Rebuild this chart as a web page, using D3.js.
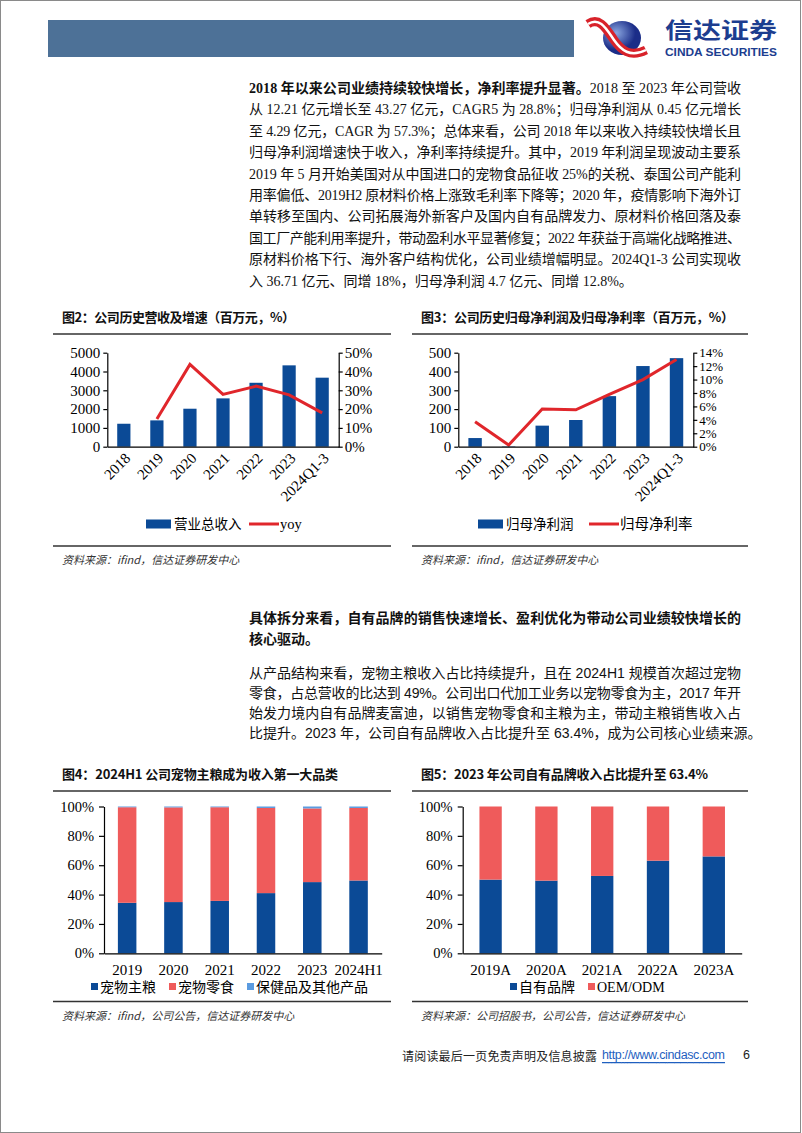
<!DOCTYPE html>
<html lang="zh">
<head>
<meta charset="UTF-8">
<script src="https://d3js.org/d3.v7.min.js"></script>
<style>
  body { margin: 0; background: #fff; }
  svg text { font-family: "Liberation Serif", "Noto Sans CJK SC", serif; }
</style>
</head>
<body>
<div id="page"></div>
<script>
// ---- data ----
const years7 = ["2018", "2019", "2020", "2021", "2022", "2023", "2024Q1-3"];
const revenue = [1221, 1400, 2020, 2570, 3400, 4327, 3671];
const revenueYoy = [null, 14.7, 43.8, 27.8, 32.2, 27.6, 18.0];
const netProfit = [46, 2, 112, 142, 269, 429, 471];
const netMargin = [3.7, 0.25, 5.6, 5.5, 7.8, 10.0, 13.0];

const years6 = ["2019", "2020", "2021", "2022", "2023", "2024H1"];
const staple = [34.4, 34.9, 35.7, 41.0, 48.5, 49.6];
const snack = [65.1, 64.5, 63.8, 58.0, 50.2, 49.4];
const otherProd = [0.5, 0.6, 0.5, 1.0, 1.3, 1.0];

const years5 = ["2019A", "2020A", "2021A", "2022A", "2023A"];
const ownBrand = [50.2, 49.5, 52.7, 63.1, 66.0];
const oem = [49.8, 50.5, 47.3, 36.9, 34.0];

const para1 = [
  [["b", "2018 年以来公司业绩持续较快增长，净利率提升显著。"], ["n", "2018 至 2023 年公司营收"]],
  [["n", "从 12.21 亿元增长至 43.27 亿元，CAGR5 为 28.8%；归母净利润从 0.45 亿元增长"]],
  [["n", "至 4.29 亿元，CAGR 为 57.3%；总体来看，公司 2018 年以来收入持续较快增长且"]],
  [["n", "归母净利润增速快于收入，净利率持续提升。其中，2019 年利润呈现波动主要系"]],
  [["n", "2019 年 5 月开始美国对从中国进口的宠物食品征收 25%的关税、泰国公司产能利"]],
  [["n", "用率偏低、2019H2 原材料价格上涨致毛利率下降等；2020 年，疫情影响下海外订"]],
  [["n", "单转移至国内、公司拓展海外新客户及国内自有品牌发力、原材料价格回落及泰"]],
  [["n", "国工厂产能利用率提升，带动盈利水平显著修复；2022 年获益于高端化战略推进、"]],
  [["n", "原材料价格下行、海外客户结构优化，公司业绩增幅明显。2024Q1-3 公司实现收"]],
  [["n", "入 36.71 亿元、同增 18%，归母净利润 4.7 亿元、同增 12.8%。"]]
];
const para2 = [
  [["b", "具体拆分来看，自有品牌的销售快速增长、盈利优化为带动公司业绩较快增长的"]],
  [["b", "核心驱动。"]]
];
const para3 = [
  [["n", "从产品结构来看，宠物主粮收入占比持续提升，且在 2024H1 规模首次超过宠物"]],
  [["n", "零食，占总营收的比达到 49%。公司出口代加工业务以宠物零食为主，2017 年开"]],
  [["n", "始发力境内自有品牌麦富迪，以销售宠物零食和主粮为主，带动主粮销售收入占"]],
  [["n", "比提升。2023 年，公司自有品牌收入占比提升至 63.4%，成为公司核心业绩来源。"]]
];

const BLUE = "#0b4a96", RED = "#e0262b", SALMON = "#ef5b5b", LIGHT = "#5b9be0";

const svg = d3.select("#page").append("svg")
    .attr("width", 802).attr("height", 1133);

svg.append("rect").attr("x", 0.5).attr("y", 0.5).attr("width", 800).attr("height", 1132)
    .attr("fill", "#fff").attr("stroke", "#8a8a8a");

// ---- header ----
svg.append("rect").attr("x", 48).attr("y", 20).attr("width", 526).attr("height", 37).attr("fill", "#4d7197");
const defs = svg.append("defs");
const rg = defs.append("radialGradient").attr("id", "ball").attr("cx", "35%").attr("cy", "35%");
rg.append("stop").attr("offset", "0%").attr("stop-color", "#8aa6e0");
rg.append("stop").attr("offset", "100%").attr("stop-color", "#1b2d88");
svg.append("ellipse").attr("cx", 622).attr("cy", 38).attr("rx", 19).attr("ry", 17).attr("fill", "url(#ball)");
const ribbon = "M588,24 C600,16 607,30 614,40 C621,50 630,58 646,50";
svg.append("path").attr("d", ribbon).attr("fill", "none").attr("stroke", "#d8222a").attr("stroke-width", 9);
svg.append("path").attr("d", ribbon).attr("fill", "none").attr("stroke", "#fff").attr("stroke-width", 2.5);
svg.append("text").attr("x", 665).attr("y", 38).attr("font-size", 22).attr("font-weight", "bold")
    .attr("fill", "#1c3d8f").attr("textLength", 112).attr("lengthAdjust", "spacingAndGlyphs")
    .style("font-family", "'Noto Sans CJK SC'").text("信达证券");
svg.append("text").attr("x", 665).attr("y", 56).attr("font-size", 10.5).attr("font-weight", "bold")
    .attr("fill", "#1c3d8f").attr("textLength", 112).attr("lengthAdjust", "spacingAndGlyphs")
    .style("font-family", "'Liberation Sans'").text("CINDA SECURITIES");

// ---- paragraphs ----
function paragraph(lines, y0, dy, fam, size) {
  lines.forEach((parts, i) => {
    const t = svg.append("text").attr("x", 249).attr("y", y0 + i * dy)
        .attr("dominant-baseline", "central").attr("font-size", size)
        .style("font-family", fam).attr("fill", "#111");
    if (i < lines.length - 1) {
      t.attr("textLength", 492).attr("lengthAdjust", "spacing");
    }
    parts.forEach(p => t.append("tspan").attr("font-weight", p[0] === "b" ? "bold" : "normal").text(p[1]));
  });
}
paragraph(para1, 88, 21.4, "'Liberation Serif','Noto Sans CJK SC'", 14);
paragraph(para2, 618, 20.5, "'Liberation Serif','Noto Sans CJK SC'", 14);
paragraph(para3, 673, 20, "'Liberation Sans','Noto Sans CJK SC'", 14);

// ---- chart frame (title, rules, source) ----
function frame(x0, x1, titleY, ruleY, bottomY, title, titleW, source) {
  svg.append("text").attr("x", x0 + 9).attr("y", titleY).attr("dominant-baseline", "central")
      .attr("font-size", 13).attr("font-weight", "bold").attr("fill", "#111")
      .attr("textLength", titleW).attr("lengthAdjust", "spacing")
      .style("font-family", "'Noto Sans CJK SC'").text(title);
  svg.append("line").attr("x1", x0).attr("x2", x1).attr("y1", ruleY).attr("y2", ruleY)
      .attr("stroke", "#333").attr("stroke-width", 1.4);
  svg.append("line").attr("x1", x0).attr("x2", x1).attr("y1", bottomY).attr("y2", bottomY)
      .attr("stroke", "#333").attr("stroke-width", 1.4);
  svg.append("text").attr("x", x0 + 9).attr("y", bottomY + 13).attr("dominant-baseline", "central")
      .attr("font-size", 11).attr("font-style", "italic").attr("fill", "#333")
      .style("font-family", "'Noto Sans CJK SC'").text(source);
}

frame(53, 391, 316.5, 334, 546, "图2：公司历史营收及增速（百万元，%）", 233, "资料来源：ifind，信达证券研发中心");
frame(412, 748, 316.5, 334, 546, "图3：公司历史归母净利润及归母净利率（百万元，%）", 313, "资料来源：ifind，信达证券研发中心");
frame(53, 391, 773, 791, 1001.5, "图4：2024H1 公司宠物主粮成为收入第一大品类", 276, "资料来源：ifind，公司公告，信达证券研发中心");
frame(412, 748, 773, 791, 1001.5, "图5：2023 年公司自有品牌收入占比提升至 63.4%", 287, "资料来源：公司招股书，公司公告，信达证券研发中心");

function styleAxis(g, size) {
  g.select(".domain").attr("stroke", "#000").attr("stroke-width", 1.2);
  g.selectAll(".tick line").attr("stroke", "#000").attr("stroke-width", 1.2);
  g.selectAll(".tick text").attr("fill", "#000").attr("font-size", size)
      .style("font-family", "'Liberation Serif'");
}

// ---- combo bar + line charts ----
function combo(cfg) {
  const x = d3.scaleBand().domain(years7).range([cfg.x0, cfg.x1]).paddingInner(0.6).paddingOuter(0.3);
  const yL = d3.scaleLinear().domain([0, cfg.maxL]).range([446.7, 352.7]);
  const yR = d3.scaleLinear().domain([0, cfg.maxR]).range([446.7, 352.7]);
  const g = svg.append("g");
  g.selectAll("rect.bar").data(cfg.bars).join("rect").attr("class", "bar")
      .attr("x", (d, i) => x(years7[i])).attr("width", x.bandwidth())
      .attr("y", d => yL(d)).attr("height", d => yL(0) - yL(d)).attr("fill", BLUE);

  const line = d3.line().defined(d => d[1] != null)
      .x(d => x(d[0]) + x.bandwidth() / 2).y(d => yR(d[1]));
  g.append("path").datum(years7.map((c, i) => [c, cfg.line[i]]))
      .attr("d", line).attr("fill", "none").attr("stroke", RED).attr("stroke-width", 3)
      .attr("stroke-linejoin", "miter");

  const ax = g.append("g").attr("transform", `translate(0,${yL(0)})`)
      .call(d3.axisBottom(x).tickSize(0).tickSizeOuter(0).tickFormat(""));
  styleAxis(ax, 14);
  years7.forEach(c => {
    g.append("text").attr("transform", `translate(${x(c) + x.bandwidth() / 2 + 4},${yL(0) + 9}) rotate(-45)`)
        .attr("text-anchor", "end").attr("dominant-baseline", "central").attr("font-size", 15)
        .style("font-family", "'Liberation Serif'").text(c);
  });
  const al = g.append("g").attr("transform", `translate(${cfg.x0},0)`)
      .call(d3.axisLeft(yL).tickValues(d3.range(0, cfg.maxL + 1, cfg.stepL)).tickSize(4).tickPadding(3)
        .tickSizeOuter(0).tickFormat(d3.format("d")));
  styleAxis(al, 15);
  const ar = g.append("g").attr("transform", `translate(${cfg.x1},0)`)
      .call(d3.axisRight(yR).tickValues(d3.range(0, cfg.maxR + 0.01, cfg.stepR)).tickSize(4).tickPadding(2)
        .tickSizeOuter(0).tickFormat(d => d + "%"));
  styleAxis(ar, cfg.sizeR);

  // legend
  const lg = g.append("g").attr("transform", "translate(0,524)");
  lg.append("rect").attr("x", cfg.leg[0]).attr("y", -4.5).attr("width", 25).attr("height", 9).attr("fill", BLUE);
  lg.append("text").attr("x", cfg.leg[0] + 28).attr("dominant-baseline", "central").attr("font-size", 13.5)
      .style("font-family", "'Liberation Serif','Noto Sans CJK SC'").text(cfg.names[0]);
  lg.append("line").attr("x1", cfg.leg[1]).attr("x2", cfg.leg[1] + 30).attr("stroke", RED).attr("stroke-width", 3);
  lg.append("text").attr("x", cfg.leg[1] + 31).attr("dominant-baseline", "central").attr("font-size", 14.5)
      .style("font-family", "'Liberation Serif','Noto Sans CJK SC'").text(cfg.names[1]);
}

combo({ x0: 107.3, x1: 338.7, maxL: 5000, stepL: 1000, maxR: 50, stepR: 10, sizeR: 15,
        bars: revenue, line: revenueYoy, leg: [146, 249], names: ["营业总收入", "yoy"] });
combo({ x0: 458.3, x1: 693.3, maxL: 500, stepL: 100, maxR: 14, stepR: 2, sizeR: 13,
        bars: netProfit, line: netMargin, leg: [478, 589], names: ["归母净利润", "归母净利率"] });

// ---- 100% stacked charts ----
function stacked(cfg) {
  const x = d3.scaleBand().domain(cfg.cats).range([cfg.x0, cfg.x1]).paddingInner(0.6).paddingOuter(0.3);
  const y = d3.scaleLinear().domain([0, 100]).range([953.3, 806.5]);
  const rows = cfg.cats.map((c, i) => {
    const r = { cat: c };
    cfg.series.forEach(s => r[s.name] = s.values[i]);
    return r;
  });
  const stack = d3.stack().keys(cfg.series.map(s => s.name))(rows);
  const g = svg.append("g");
  g.selectAll("g.layer").data(stack).join("g").attr("class", "layer")
      .attr("fill", (d, i) => cfg.series[i].color)
    .selectAll("rect").data(d => d).join("rect")
      .attr("x", d => x(d.data.cat)).attr("width", x.bandwidth())
      .attr("y", d => y(d[1])).attr("height", d => y(d[0]) - y(d[1]));

  const ax = g.append("g").attr("transform", `translate(0,${y(0)})`)
      .call(d3.axisBottom(x).tickSize(0).tickPadding(11).tickSizeOuter(0));
  styleAxis(ax, 15);
  const ay = g.append("g").attr("transform", `translate(${cfg.x0},0)`)
      .call(d3.axisLeft(y).tickValues([0, 20, 40, 60, 80, 100]).tickSize(5).tickPadding(5)
        .tickSizeOuter(0).tickFormat(d => d + "%"));
  styleAxis(ay, 14.5);

  const lg = g.append("g").attr("transform", `translate(0,${cfg.legY})`);
  let lx = cfg.legX;
  cfg.series.forEach(s => {
    lg.append("rect").attr("x", lx).attr("y", -4).attr("width", 7).attr("height", 7).attr("fill", s.color);
    const t = lg.append("text").attr("x", lx + 9).attr("dominant-baseline", "central").attr("font-size", 14)
        .style("font-family", "'Liberation Serif','Noto Sans CJK SC'").text(s.name);
    lx += 9 + t.node().getComputedTextLength() + 13;
  });
}

stacked({ cats: years6, x0: 104, x1: 381.7, legX: 91, legY: 987,
  series: [
    { name: "宠物主粮", values: staple, color: BLUE },
    { name: "宠物零食", values: snack, color: SALMON },
    { name: "保健品及其他产品", values: otherProd, color: LIGHT }
  ] });
stacked({ cats: years5, x0: 462.7, x1: 741.7, legX: 510, legY: 987,
  series: [
    { name: "自有品牌", values: ownBrand, color: BLUE },
    { name: "OEM/ODM", values: oem, color: SALMON }
  ] });

// ---- footer ----
svg.append("text").attr("x", 402).attr("y", 1055).attr("dominant-baseline", "central").attr("font-size", 12)
    .attr("textLength", 195).style("font-family", "'Noto Sans CJK SC'").attr("fill", "#222").text("请阅读最后一页免责声明及信息披露");
svg.append("text").attr("x", 602).attr("y", 1055).attr("dominant-baseline", "central").attr("font-size", 12.5)
    .attr("textLength", 123).attr("fill", "#1f5fbf").attr("text-decoration", "underline")
    .style("font-family", "'Liberation Sans'").text("http://www.cindasc.com");
svg.append("text").attr("x", 743).attr("y", 1055).attr("dominant-baseline", "central").attr("font-size", 12.5)
    .style("font-family", "'Liberation Sans'").attr("fill", "#222").text("6");
</script>
</body>
</html>
